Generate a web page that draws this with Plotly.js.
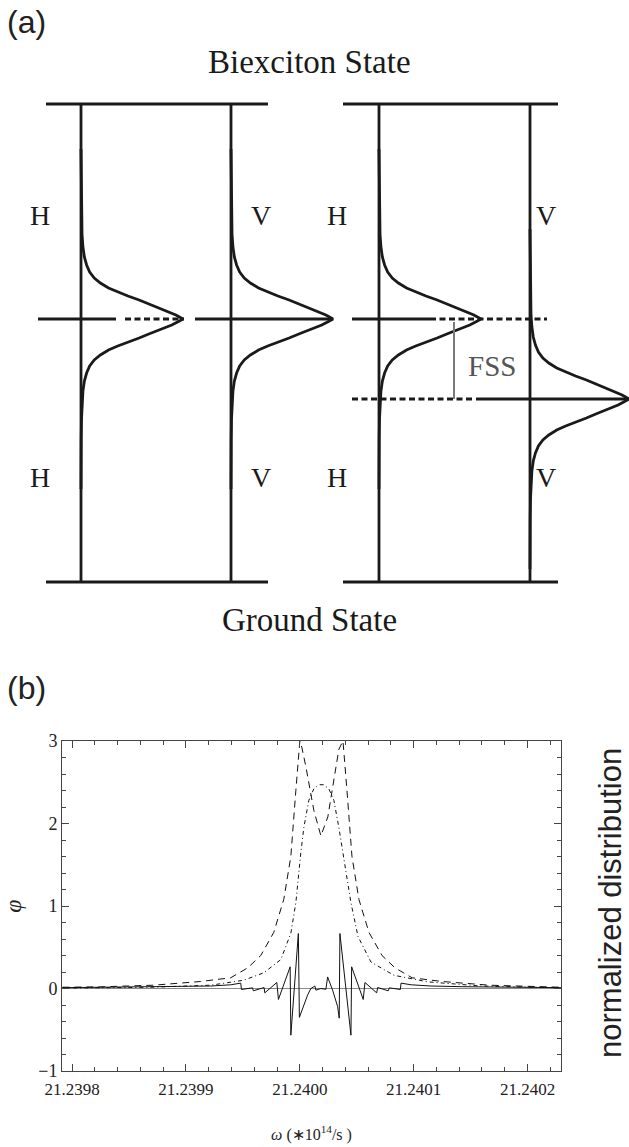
<!DOCTYPE html>
<html>
<head>
<meta charset="utf-8">
<script src="https://cdn.plot.ly/plotly-3.0.1.min.js"></script>
<style>html,body{margin:0;padding:0;background:#fff;}#chart{width:629px;height:1147px;}</style>
</head>
<body>
<div id="chart"></div>
<script>
// ---------- panel (b) data: omega (10^14 /s) and phi ----------
const omegaDashed = [21.2397914,21.2398248,21.2398715,21.2399129,21.2399393,21.2399542,21.2399657,21.2399771,21.2399859,21.2399921,21.2399965,21.2400000,21.2400018,21.2400053,21.2400123,21.2400185,21.2400246,21.2400299,21.2400343,21.2400361,21.2400379,21.2400414,21.2400458,21.2400519,21.2400607,21.2400722,21.2400836,21.2400986,21.2401250,21.2401664,21.2402130,21.2402298];
const phiDashed   = [0.015,0.02,0.04,0.085,0.13,0.25,0.40,0.68,1.08,1.6,2.4,3.0,2.92,2.69,2.16,1.85,2.08,2.5,2.9,2.95,3.0,2.4,1.6,1.08,0.68,0.40,0.25,0.13,0.085,0.04,0.02,0.015];

const omegaDotted = [21.2397914,21.2398688,21.2399217,21.2399507,21.2399683,21.2399833,21.2399921,21.2399965,21.2400009,21.2400035,21.2400079,21.2400123,21.2400167,21.2400211,21.2400255,21.2400299,21.2400343,21.2400370,21.2400405,21.2400449,21.2400511,21.2400625,21.2400827,21.2401127,21.2401593,21.2402298];
const phiDotted   = [0.005,0.015,0.04,0.1,0.19,0.35,0.67,1.04,1.65,1.95,2.28,2.42,2.47,2.47,2.42,2.28,1.95,1.72,1.4,1.04,0.63,0.32,0.16,0.08,0.03,0.008];

const omegaSolid = [21.2397914,21.2398424,21.2398952,21.2399217,21.2399393,21.2399481,21.2399487,21.2399584,21.2399592,21.2399686,21.2399692,21.2399798,21.2399812,21.2399915,21.2399921,21.2399987,21.2399996,21.2400068,21.2400097,21.2400132,21.2400141,21.2400185,21.2400229,21.2400244,21.2400288,21.2400332,21.2400346,21.2400352,21.2400449,21.2400455,21.2400557,21.2400572,21.2400675,21.2400684,21.2400777,21.2400786,21.2400883,21.2400889,21.2400977,21.2401153,21.2401417,21.2401945,21.2402298];
const phiSolid   = [0.01,0.015,0.022,0.03,0.045,0.065,-0.012,0.008,-0.028,0.012,-0.053,0.073,-0.133,0.263,-0.566,0.667,-0.35,-0.08,0.0,0.03,-0.02,0.0,-0.01,0.14,-0.02,-0.22,-0.36,0.667,-0.566,0.263,-0.133,0.073,-0.053,0.012,-0.028,0.008,-0.012,0.065,0.045,0.03,0.022,0.015,0.01];

// ---------- panel (a) schematic data (diagram units = pixels) ----------
const stateNames = ["Biexciton State", "Ground State"];
const polLabels = ["H", "V", "H", "V"];
const transitionX = [81, 231, 379, 530];       // vertical transition lines
const stateLevelY = [104, 582];                // biexciton / ground levels
const boxLeft = [46, 343], boxRight = [268, 558];
const exciton = {centerY: [319, 319, 319, 399], amplitude: [102, 102, 102, 99]};
// emission-line profile: offset from line centre vs relative width
const profileOffset = [0,2,4,6,8,11,15,19,23,27,31,36,41,47,54,62,72,85,100,120,145,170];
const profileRatio  = [1,0.965,0.93,0.89,0.84,0.76,0.665,0.57,0.46,0.36,0.27,0.19,0.13,0.085,0.055,0.033,0.019,0.01,0.005,0.002,0.001,0];

const traces = [];
const diagLine = {color: '#1a1a1a', width: 2.8};
function seg(x, y, dash, color, width) {
  traces.push({x: x, y: y, xaxis: 'x2', yaxis: 'y2', mode: 'lines', hoverinfo: 'skip',
    line: {color: color || diagLine.color, width: width || diagLine.width, dash: dash || 'solid'}});
}
for (let b = 0; b < 2; b++) {
  for (const ly of stateLevelY) seg([boxLeft[b], boxRight[b]], [ly, ly]);
}
for (const vx of transitionX) seg([vx, vx], [stateLevelY[0], stateLevelY[1]]);
for (let i = 0; i < 4; i++) {
  const xs = [], ys = [];
  const c = exciton.centerY[i], A = exciton.amplitude[i], x0 = transitionX[i];
  for (let k = profileOffset.length - 1; k >= 0; k--) { xs.push(x0 + A * profileRatio[k]); ys.push(c - profileOffset[k]); }
  for (let k = 1; k < profileOffset.length; k++) { xs.push(x0 + A * profileRatio[k]); ys.push(c + profileOffset[k]); }
  seg(xs, ys);
}
const dashPat = '6px,3.5px';
seg([38, 116], [319, 319]);
seg([125, 184], [319, 319], dashPat);
seg([195, 333], [319, 319]);
seg([352, 430], [319, 319]);
seg([430, 547], [319, 319], dashPat);
seg([352, 473], [399, 399], dashPat);
seg([476, 629], [399, 399]);
seg([454, 454], [322, 399], 'solid', '#7a7a7a', 2);

// ---------- panel (b) traces ----------
traces.push({x: omegaDashed, y: phiDashed, mode: 'lines', line: {color: '#111', width: 1, dash: '7px,5px'}, hoverinfo: 'skip'});
traces.push({x: omegaDotted, y: phiDotted, mode: 'lines', line: {color: '#111', width: 1, dash: '4px,3px,1px,3px'}, hoverinfo: 'skip'});
traces.push({x: omegaSolid, y: phiSolid, mode: 'lines', line: {color: '#111', width: 1}, hoverinfo: 'skip'});

const serif = 'Liberation Serif, Times New Roman, serif';
const sans = 'Liberation Sans, Arial, sans-serif';
const H = 1147, W = 629;
const ann = [];
function txt(x, y, text, size, family, color, extra) {
  ann.push(Object.assign({x: x, y: y, text: text, showarrow: false, xref: 'x2', yref: 'y2',
    font: {family: family, size: size, color: color || '#1a1a1a'}}, extra || {}));
}
function ptxt(px, py, text, size, family, color, extra) {
  ann.push(Object.assign({x: px / W, y: 1 - py / H, text: text, showarrow: false, xref: 'paper', yref: 'paper',
    xanchor: 'center', yanchor: 'middle',
    font: {family: family, size: size, color: color || '#1a1a1a'}}, extra || {}));
}
txt(5, 22, '(a)', 32, sans, '#222', {xanchor: 'left'});
txt(309, 62, stateNames[0], 33, serif);
txt(309, 620, stateNames[1], 33, serif);
const labX = [40, 261, 337, 546];
for (let i = 0; i < 4; i++) { txt(labX[i], 215, polLabels[i], 28, serif); txt(labX[i], 477, polLabels[i], 28, serif); }
txt(492, 366, 'FSS', 29, serif, '#555');
ptxt(5, 688, '(b)', 32, sans, '#222', {xanchor: 'left'});
ptxt(610, 903, 'normalized distribution', 31, sans, '#222', {textangle: -90});

const axisCol = '#444';
const layout = {
  width: W, height: H, margin: {l: 0, r: 0, t: 0, b: 0},
  paper_bgcolor: '#fff', plot_bgcolor: 'rgba(0,0,0,0)', showlegend: false,
  xaxis: {domain: [62 / W, 561 / W], range: [21.2397911, 21.2402294], tick0: 21.2398, dtick: 0.0001, tickformat: '.4f',
    ticks: 'inside', ticklen: 7, tickcolor: axisCol, showline: true, linecolor: axisCol, linewidth: 1, mirror: 'allticks',
    showgrid: false, zeroline: false, anchor: 'y', ticklabelstandoff: 3,
    minor: {dtick: 0.00002, tick0: 21.2398, ticks: 'inside', ticklen: 4, tickcolor: axisCol, showgrid: false},
    tickfont: {family: serif, size: 17, color: '#222'},
    title: {text: '<i>ω</i> (∗10<sup>14</sup>/s )', font: {family: serif, size: 16, color: '#222'}, standoff: 30}},
  yaxis: {domain: [(H - 1071) / H, (H - 741) / H], range: [-1, 3], dtick: 1, tick0: 0,
    ticks: 'inside', ticklen: 7, tickcolor: axisCol, showline: true, linecolor: axisCol, linewidth: 1, mirror: 'allticks',
    showgrid: false, zeroline: true, zerolinecolor: '#8a8a8a', zerolinewidth: 1, anchor: 'x',
    minor: {dtick: 0.2, ticks: 'inside', ticklen: 4, tickcolor: axisCol, showgrid: false},
    tickfont: {family: serif, size: 18, color: '#222'},
    title: {text: '<i>φ</i>', font: {family: serif, size: 24, color: '#222'}, standoff: 30}},
  xaxis2: {domain: [0, 1], range: [0, W], visible: false, anchor: 'y2', fixedrange: true},
  yaxis2: {domain: [(H - 640) / H, 1], range: [640, 0], visible: false, anchor: 'x2', fixedrange: true},
  annotations: ann
};
Plotly.newPlot('chart', traces, layout, {displayModeBar: false, staticPlot: true});
</script>
</body>
</html>
